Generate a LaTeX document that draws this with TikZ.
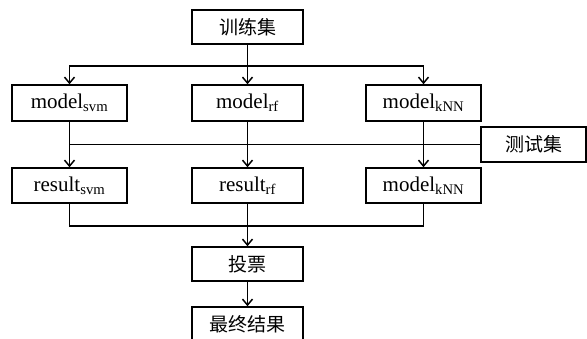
\documentclass[tikz,border=0pt]{standalone}
\usepackage{fontspec}
\setmainfont{Liberation Serif}
\newfontfamily\cjk{Noto Sans CJK SC}
\usetikzlibrary{arrows.meta}
\begin{document}
\begin{tikzpicture}[x=1pt,y=-1pt,
  box/.style={draw,line width=1.5pt,inner sep=0pt,minimum height=35pt,font=\fontsize{21}{25}\selectfont},
  wbox/.style={box,minimum width=115pt},
  nbox/.style={box,minimum width=111pt},
  zh/.style={font=\cjk\fontsize{19}{23}\selectfont},
  conn/.style={line width=1.5pt},
  arr/.style={conn,-{Straight Barb[length=6pt,width=10pt,line width=1.5pt]}}]
\clip (0,0) rectangle (587,338);
\node[nbox,zh,minimum height=34pt] (train) at (247.5,27) {训练集};
\node[wbox,minimum height=36pt] (msvm) at (69.5,103) {model\textsubscript{svm}};
\node[nbox,minimum height=36pt] (mrf) at (247.5,103) {model\textsubscript{rf}};
\node[wbox,minimum height=36pt] (mknn) at (423.5,103) {model\textsubscript{kNN}};
\node[box,zh,minimum width=105pt] (test) at (533.5,144.5) {测试集};
\node[wbox] (rsvm) at (69.5,185.5) {result\textsubscript{svm}};
\node[nbox] (rrf) at (247.5,185.5) {result\textsubscript{rf}};
\node[wbox] (rknn) at (423.5,185.5) {model\textsubscript{kNN}};
\node[nbox,zh,minimum height=34pt] (vote) at (247.5,264) {投票};
\node[nbox,zh,minimum height=34pt] (final) at (247.5,324) {最终结果};
\coordinate (split) at (247.5,66);
\coordinate (merge) at (247.5,226);
\draw[arr] (train) -- (mrf);
\draw[arr] (split) -| (msvm);
\draw[arr] (split) -| (mknn);
\draw[conn] (test.west) -- (test.west -| msvm);
\draw[arr] (msvm) -- (rsvm);
\draw[arr] (mrf) -- (rrf);
\draw[arr] (mknn) -- (rknn);
\draw[conn] (rsvm.south) |- (merge) -| (rknn.south);
\draw[arr] (rrf) -- (vote);
\draw[arr] (vote) -- (final);
\end{tikzpicture}
\end{document}
